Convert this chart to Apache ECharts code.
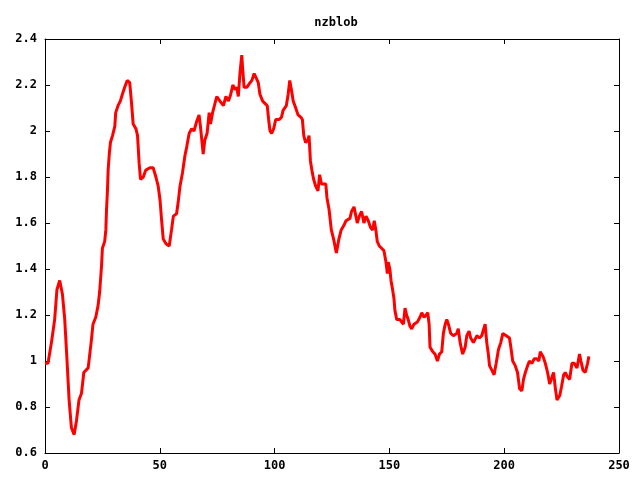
<!DOCTYPE html>
<html><head><meta charset="utf-8">
<script src="https://cdn.jsdelivr.net/npm/echarts@6/dist/echarts.min.js"></script>
<style>html,body{margin:0;padding:0;background:#fff}#c{width:640px;height:480px}</style>
</head><body><div id="c"></div>
<script>
const titleText = 'nzblob';
const xs = [
 0, 1.3, 2.8, 4.2, 5.2, 6.4, 7.6, 8.6, 9.6, 10.5,
 11.5, 12.7, 13.7, 14.8, 15.9, 16.9, 18.8, 19.5, 20.2, 20.9,
 22.1, 23.1, 23.8, 24.6, 25.0, 26.0, 26.5, 26.8, 27.2, 27.5,
 28.0, 28.5, 29.4, 30.4, 30.8, 31.8, 32.8, 33.7, 34.7, 35.8,
 36.9, 37.7, 38.4, 39.6, 40.3, 41.0, 41.6, 42.8, 43.9, 45.7,
 47.1, 48.3, 49.3, 50.1, 50.8, 51.5, 52.7, 54.1, 55.1, 55.9,
 57.3, 58.0, 58.8, 59.9, 60.9, 61.7, 62.8, 63.9, 64.9, 66.0,
 67.1, 67.7, 68.3, 68.9, 69.6, 70.6, 71.5, 72.1, 73.0, 74.8,
 76.2, 77.7, 78.8, 79.9, 80.9, 81.8, 82.8, 83.5, 84.2, 84.9,
 85.7, 86.1, 86.7, 87.9, 89.3, 90.1, 91.1, 91.9, 92.9, 93.6,
 94.8, 95.8, 96.8, 97.4, 98.0, 98.7, 99.6, 100.5, 102.0, 103.0,
 103.7, 105.1, 105.9, 106.6, 107.3, 108.1, 109.2, 110.2, 111.4, 112.1,
 112.7, 113.5, 114.5, 115.0, 115.6, 116.4, 117.0, 117.9, 118.9, 119.6,
 120.4, 122.3, 122.8, 123.7, 124.7, 125.7, 126.9, 128.0, 129.0, 130.2,
 131.1, 132.8, 133.5, 134.6, 135.4, 136.0, 136.9, 137.9, 138.9, 139.8,
 140.8, 141.8, 142.7, 143.4, 144.1, 144.7, 145.6, 146.6, 147.6, 148.5,
 149.1, 149.5, 150.2, 150.7, 151.4, 152.0, 152.4, 153.2, 154.6, 155.3,
 156.1, 156.8, 157.5, 158.2, 159.0, 159.7, 160.7, 162.2, 163.3, 164.1,
 165.1, 166.0, 166.7, 167.3, 167.7, 168.9, 169.9, 170.9, 171.8, 172.8,
 173.5, 174.3, 175.0, 175.7, 176.7, 177.9, 179.3, 180.0, 180.8, 181.9,
 183.0, 183.7, 184.7, 185.4, 186.6, 188.1, 189.2, 190.2, 191.7, 192.4,
 193.1, 193.6, 194.6, 195.6, 196.5, 197.5, 198.5, 199.4, 200.9, 202.3,
 202.9, 203.7, 204.8, 205.8, 206.7, 207.7, 208.4, 209.2, 210.2, 211.0,
 212.1, 213.1, 214.2, 215.1, 215.7, 216.9, 217.9, 218.9, 219.8, 220.8,
 221.5, 222.3, 223.0, 224.2, 225.0, 225.9, 226.6, 227.6, 228.5, 229.5,
 230.5, 231.7, 232.8, 233.4, 234.3, 235.3, 236.3, 236.9
];
const ys = [
 0.99, 0.99, 1.08, 1.18, 1.31, 1.35, 1.29, 1.18, 1.00, 0.83,
 0.71, 0.68, 0.74, 0.83, 0.86, 0.95, 0.97, 1.03, 1.09, 1.16,
 1.19, 1.24, 1.30, 1.41, 1.49, 1.52, 1.57, 1.66, 1.74, 1.83,
 1.90, 1.95, 1.98, 2.02, 2.08, 2.11, 2.13, 2.16, 2.19, 2.22,
 2.21, 2.12, 2.03, 2.01, 1.98, 1.86, 1.79, 1.80, 1.83, 1.84,
 1.84, 1.80, 1.76, 1.70, 1.61, 1.53, 1.51, 1.50, 1.57, 1.63,
 1.64, 1.69, 1.76, 1.82, 1.89, 1.93, 1.99, 2.01, 2.00, 2.04,
 2.07, 2.02, 1.96, 1.90, 1.96, 1.99, 2.08, 2.03, 2.08, 2.15,
 2.13, 2.11, 2.15, 2.13, 2.16, 2.20, 2.18, 2.19, 2.15, 2.25,
 2.33, 2.27, 2.19, 2.19, 2.21, 2.22, 2.25, 2.25, 2.21, 2.16,
 2.13, 2.12, 2.11, 2.05, 2.00, 1.99, 2.01, 2.05, 2.05, 2.06,
 2.09, 2.11, 2.16, 2.22, 2.18, 2.13, 2.10, 2.07, 2.06, 2.05,
 1.98, 1.95, 1.96, 1.98, 1.87, 1.82, 1.79, 1.76, 1.74, 1.81,
 1.77, 1.77, 1.71, 1.66, 1.57, 1.53, 1.47, 1.53, 1.57, 1.59,
 1.61, 1.62, 1.65, 1.67, 1.63, 1.60, 1.63, 1.65, 1.60, 1.63,
 1.61, 1.58, 1.57, 1.61, 1.57, 1.52, 1.50, 1.49, 1.48, 1.43,
 1.38, 1.43, 1.40, 1.35, 1.31, 1.27, 1.22, 1.18, 1.18, 1.17,
 1.16, 1.23, 1.20, 1.18, 1.15, 1.14, 1.16, 1.17, 1.19, 1.21,
 1.19, 1.20, 1.21, 1.16, 1.06, 1.04, 1.03, 1.00, 1.03, 1.04,
 1.12, 1.16, 1.18, 1.16, 1.12, 1.11, 1.12, 1.14, 1.08, 1.03,
 1.06, 1.11, 1.13, 1.10, 1.08, 1.11, 1.10, 1.11, 1.16, 1.08,
 1.03, 0.98, 0.96, 0.94, 0.99, 1.05, 1.08, 1.12, 1.11, 1.10,
 1.06, 1.00, 0.98, 0.95, 0.88, 0.87, 0.92, 0.95, 0.98, 1.00,
 0.99, 1.01, 1.01, 1.00, 1.04, 1.02, 0.99, 0.95, 0.90, 0.93,
 0.95, 0.88, 0.83, 0.85, 0.89, 0.94, 0.95, 0.93, 0.92, 0.99,
 0.99, 0.97, 1.03, 1.00, 0.96, 0.95, 0.99, 1.02
];
const xTicks = [0, 50, 100, 150, 200, 250];
const yTicks = [0.6, 0.8, 1, 1.2, 1.4, 1.6, 1.8, 2, 2.2, 2.4];

const font = 'DejaVu Sans Mono';
const chart = echarts.init(document.getElementById('c'), null, {renderer: 'canvas'});
const pts = xs.map((x, i) => [x, ys[i]]);
const axisLine = {show: true, onZero: false, lineStyle: {color: '#000', width: 1}};
const tick = {show: true, inside: true, length: 5, lineStyle: {color: '#000', width: 1}};
chart.setOption({
  animation: false,
  backgroundColor: '#fff',
  title: {
    text: titleText, left: 331, top: 12, textAlign: 'center',
    textStyle: {fontFamily: font, fontSize: 12, fontWeight: 'bold', color: '#000'}
  },
  grid: {left: 45, right: 21, top: 39, bottom: 27, containLabel: false},
  xAxis: [{
    type: 'value', min: xTicks[0], max: xTicks[xTicks.length - 1], interval: 50,
    axisLine: axisLine, axisTick: tick, splitLine: {show: false},
    axisLabel: {fontFamily: font, fontSize: 12, fontWeight: 'bold', color: '#000', margin: 7}
  }, {
    type: 'value', position: 'top', min: xTicks[0], max: xTicks[xTicks.length - 1], interval: 50,
    axisLine: axisLine, axisTick: tick, splitLine: {show: false}, axisLabel: {show: false}
  }],
  yAxis: [{
    type: 'value', min: yTicks[0], max: yTicks[yTicks.length - 1], interval: 0.2,
    axisLine: axisLine, axisTick: tick, splitLine: {show: false},
    axisLabel: {fontFamily: font, fontSize: 12, fontWeight: 'bold', color: '#000', margin: 8,
      formatter: v => String(Math.round(v * 10) / 10)}
  }, {
    type: 'value', position: 'right', min: yTicks[0], max: yTicks[yTicks.length - 1], interval: 0.2,
    axisLine: axisLine, axisTick: tick, splitLine: {show: false}, axisLabel: {show: false}
  }],
  series: [{
    type: 'line', data: pts, showSymbol: false, symbol: 'none',
    lineStyle: {color: '#ff0000', width: 3}, itemStyle: {color: '#ff0000'}
  }]
});
</script></body></html>
